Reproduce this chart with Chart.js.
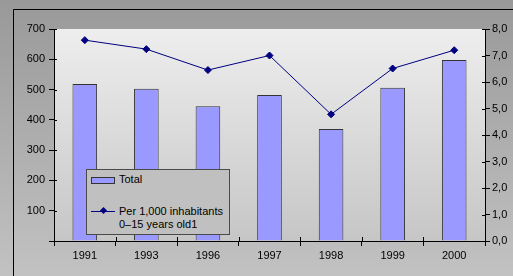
<!DOCTYPE html>
<html>
<head>
<meta charset="utf-8">
<script src="https://cdn.jsdelivr.net/npm/chart.js@4"></script>
<style>
  html, body { margin: 0; padding: 0; }
  body { width: 513px; height: 276px; overflow: hidden; position: relative;
         font-family: "Liberation Sans", Arial, sans-serif; }
  #wrap { position: absolute; left: 0; top: 0; width: 513px; height: 276px; }
  #legend { position: absolute; left: 86px; top: 169px; width: 142px; height: 64px;
            background: #c0c0c0; border: 1px solid #4a4a4a; font-size: 11px; color: #000; }
  .sw-bar { position: absolute; left: 4px; top: 7px; width: 22px; height: 5px;
            background: #9999ff; border: 1px solid #333; }
  .sw-line { position: absolute; left: 4px; top: 41px; width: 24px; height: 1px; background: #000080; }
  .sw-dot { position: absolute; left: 14px; top: 38px; width: 5px; height: 5px; background: #000080;
            transform: rotate(45deg); }
  .lt { position: absolute; left: 32px; line-height: 13px; white-space: nowrap; }
</style>
</head>
<body>
<div id="wrap"><canvas id="c" width="513" height="276"></canvas></div>
<div id="legend">
  <div class="sw-bar"></div><div class="lt" style="top:3px">Total</div>
  <div class="sw-line"></div><div class="sw-dot"></div>
  <div class="lt" style="top:35px">Per 1,000 inhabitants</div>
  <div class="lt" style="top:48px">0–15 years old1</div>
</div>
<script>
// ─── DATA ────────────────────────────────────────────────────
const years     = ['1991', '1993', '1996', '1997', '1998', '1999', '2000'];
const totals    = [518, 503, 445, 482, 370, 506, 598];
const perThous  = [7.58, 7.24, 6.45, 7.0, 4.78, 6.51, 7.2];
const leftTicks = [0, 100, 200, 300, 400, 500, 600, 700];
const rightMax  = 8;

// ─── BACKGROUND ──────────────────────────────────────────────
const backdrop = {
    id: 'backdrop',
    beforeDraw(chart) {
        const ctx = chart.ctx, a = chart.chartArea;
        ctx.save();
        let g = ctx.createLinearGradient(0, 0, 0, chart.height);
        g.addColorStop(0, '#999999');
        g.addColorStop(1, '#c2c2c2');
        ctx.fillStyle = g;
        ctx.fillRect(0, 0, chart.width, chart.height);
        // outer frame
        ctx.strokeStyle = '#000';
        ctx.lineWidth = 1;
        ctx.beginPath();
        ctx.moveTo(13.5, chart.height);
        ctx.lineTo(13.5, 9.5);
        ctx.lineTo(chart.width, 9.5);
        ctx.stroke();
        // plot area
        g = ctx.createLinearGradient(0, a.top, 0, a.bottom);
        g.addColorStop(0, '#eeeeee');
        g.addColorStop(1, '#c6c6c6');
        ctx.fillStyle = g;
        ctx.fillRect(a.left, a.top, a.right - a.left, a.bottom - a.top);
        ctx.restore();
    },
    // the tick marks cross the axis lines: add the short inner half
    afterDraw(chart) {
        const ctx = chart.ctx, a = chart.chartArea, s = chart.scales;
        ctx.save();
        ctx.strokeStyle = '#000';
        ctx.lineWidth = 1;
        ctx.beginPath();
        s.y.ticks.forEach(t => {
            const y = Math.round(s.y.getPixelForValue(t.value)) + 0.5;
            ctx.moveTo(a.left, y); ctx.lineTo(a.left + 3, y);
        });
        s.y2.ticks.forEach(t => {
            const y = Math.round(s.y2.getPixelForValue(t.value)) + 0.5;
            ctx.moveTo(a.right - 3, y); ctx.lineTo(a.right, y);
        });
        const step = (a.right - a.left) / years.length;
        for (let i = 0; i <= years.length; i++) {
            const x = Math.round(a.left + i * step) + 0.5;
            ctx.moveTo(x, a.bottom - 4); ctx.lineTo(x, a.bottom);
        }
        ctx.stroke();
        ctx.restore();
    }
};

const font = { family: '"Liberation Sans", Arial, sans-serif', size: 11 };

new Chart(document.getElementById('c'), {
    data: {
        labels: years,
        datasets: [
            {
                type: 'line',
                data: perThous,
                yAxisID: 'y2',
                borderColor: '#000080',
                backgroundColor: '#000080',
                borderWidth: 1,
                pointStyle: 'rectRot',
                pointRadius: 3.5,
                tension: 0,
                order: 0
            },
            {
                type: 'bar',
                data: totals,
                yAxisID: 'y',
                backgroundColor: '#9999ff',
                borderColor: '#333333',
                borderWidth: 1,
                barPercentage: 0.4,
                categoryPercentage: 1,
                order: 1
            }
        ]
    },
    options: {
        responsive: false,
        animation: false,
        events: [],
        layout: { padding: { top: 29, left: 0, right: 0, bottom: 0 } },
        plugins: { legend: { display: false }, tooltip: { enabled: false } },
        scales: {
            x: {
                offset: true,
                grid: { offset: true, drawOnChartArea: false, color: '#000', tickLength: 5 },
                border: { color: '#000' },
                ticks: { color: '#000', font, padding: 3, maxRotation: 0 },
                afterFit(s) { s.height = 35; }
            },
            y: {
                position: 'left',
                min: 0, max: leftTicks[leftTicks.length - 1],
                afterBuildTicks(s) { s.ticks = leftTicks.map(v => ({ value: v })); },
                grid: { drawOnChartArea: false, color: '#000', tickLength: 5 },
                border: { color: '#000' },
                ticks: { color: '#000', font, padding: 4,
                         callback: v => v === 0 ? '' : v },
                afterFit(s) { s.width = 54; }
            },
            y2: {
                position: 'right',
                min: 0, max: rightMax,
                ticks: { stepSize: 1, color: '#000', font, padding: 2,
                         callback: v => v.toFixed(1).replace('.', ',') },
                grid: { drawOnChartArea: false, color: '#000', tickLength: 5 },
                border: { color: '#000' },
                afterFit(s) { s.width = 28; }
            }
        }
    },
    plugins: [backdrop]
});
</script>
</body>
</html>
